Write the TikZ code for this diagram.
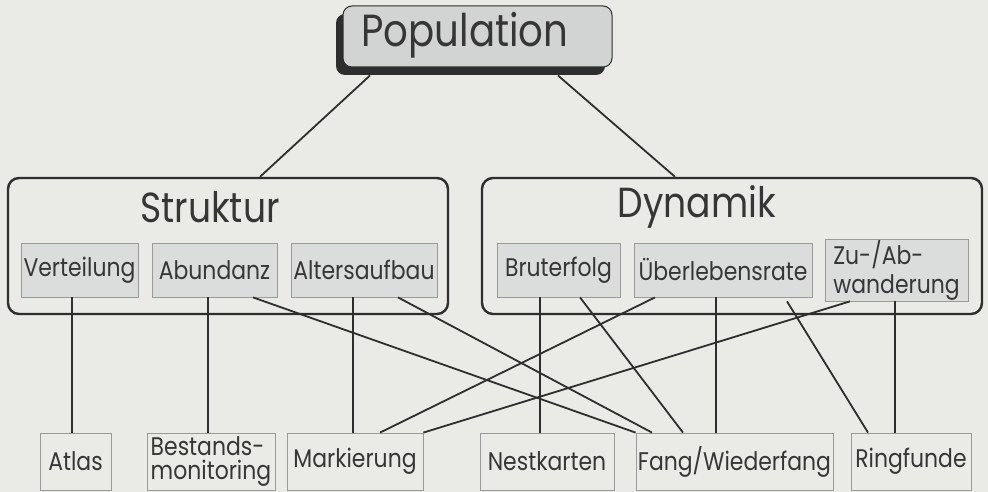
\documentclass[tikz,border=0pt]{standalone}
\usepackage{fontspec}
\setmainfont{Poppins}[FakeStretch=0.86]
\usetikzlibrary{calc,shadows}
\definecolor{nen}{HTML}{EAEAE6}
\definecolor{vien}{HTML}{2E2E2E}
\definecolor{hop}{HTML}{DADDDC}
\definecolor{xam}{HTML}{9A9A9A}
\definecolor{chu}{HTML}{363636}
\begin{document}
\begin{tikzpicture}[x=1pt, y=1pt, text=chu,
    nhom/.style={draw=vien, line width=2.4pt, rounded corners=11pt, minimum height=136pt},
    muc/.style={draw=xam, fill=hop, line width=0.8pt, minimum height=54pt, inner sep=1pt, font=\fontsize{25.5}{29}\selectfont},
    cuoi/.style={draw=xam, line width=0.8pt, minimum height=57pt, inner sep=1pt, font=\fontsize{25.5}{24}\selectfont},
    lien/.style={draw=vien, line width=1.8pt}]
    % Nen
    \fill[nen] (0,0) rectangle (988,492);
    \useasboundingbox (0,0) rectangle (988,492);

    % Hop tren cung
    \node[draw=vien, line width=1pt, fill=hop!90!gray, rounded corners=9pt,
          minimum width=269pt, minimum height=61pt,
          drop shadow={shadow xshift=-7pt, shadow yshift=-8pt, fill=vien, opacity=1}]
        (pop) at (477.5,455.5) {};
    \node[font=\fontsize{45}{45}\selectfont] (tpop) at (465,457) {Population};

    % Hai nhom lon
    \node[nhom, minimum width=440pt] (struk) at (228,246) {};
    \node[nhom, minimum width=500pt] (dyn) at (732,246) {};
    \node[font=\fontsize{42}{42}\selectfont] (tstruk) at (210,285) {Struktur};
    \node[font=\fontsize{42}{42}\selectfont] (tdyn) at (697,285) {Dynamik};

    % Cac muc ben trong
    \node[muc, minimum width=117pt] (vert) at (79.5,222) {Verteilung};
    \node[muc, minimum width=125pt] (abund) at (214.5,222) {Abundanz};
    \node[muc, minimum width=146pt] (alter) at (364,222) {Altersaufbau};
    \node[muc, minimum width=123pt] (brut) at (558.5,222) {Bruterfolg};
    \node[muc, minimum width=178pt] (ueber) at (723,222) {Überlebensrate};
    \node[muc, minimum width=143pt, align=left] (wand) at (896.5,222) {Zu-/Ab-\\wanderung};

    % Phuong phap
    \node[cuoi, minimum width=71pt] (atlas) at (75.5,30.5) {Atlas};
    \node[cuoi, minimum width=128pt, align=left] (best) at (211,30.5) {Bestands-\\monitoring};
    \node[cuoi, minimum width=136pt] (mark) at (355,30.5) {Markierung};
    \node[cuoi, minimum width=134pt] (nest) at (547,30.5) {Nestkarten};
    \node[cuoi, minimum width=197pt] (fang) at (734.5,30.5) {Fang/Wiederfang};
    \node[cuoi, minimum width=120pt] (ring) at (911,30.5) {Ringfunde};

    % Duong noi
    \draw[lien] ($(pop.south -| 370,0)+(0,-8)$) -- (struk.north -| 260,0);
    \draw[lien] ($(pop.south -| 558,0)+(0,-8)$) -- (dyn.north -| 675,0);

    \draw[lien] (vert.south -| 72,0) -- (atlas.north -| 72,0);
    \draw[lien] (abund.south -| 208,0) -- (best.north -| 208,0);
    \draw[lien] (alter.south -| 353,0) -- (mark.north -| 353,0);
    \draw[lien] (brut.south -| 540,0) -- (nest.north -| 540,0);
    \draw[lien] (ueber.south -| 716,0) -- (fang.north -| 716,0);
    \draw[lien] (wand.south -| 895,0) -- (ring.north -| 895,0);

    \draw[lien] (abund.south -| 253,0) -- (fang.north west);
    \draw[lien] (alter.south -| 398,0) -- (fang.north -| 652,0);
    \draw[lien] (brut.south -| 580,0) -- (fang.north -| 683,0);
    \draw[lien] (ueber.south -| 655,0) -- (mark.north -| 380,0);
    \draw[lien] (wand.south -| 850,0) -- (mark.north east);
    \draw[lien] (wand.south -| 787,0) -- (ring.north -| 868,0);
\end{tikzpicture}
\end{document}
